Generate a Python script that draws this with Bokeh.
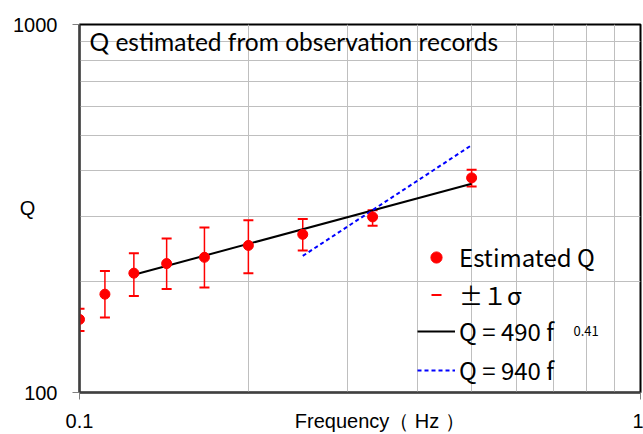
from bokeh.plotting import figure
from bokeh.models import (FixedTicker, Legend, LegendItem, Label, Range1d)
from bokeh.embed import file_html
from bokeh.resources import INLINE

# ---- data ----
freq = [0.100, 0.111, 0.125, 0.143, 0.167, 0.200, 0.250, 0.333, 0.500]
q_est = [158, 185, 211, 224, 233, 251, 269, 300, 383]
q_upper = [169, 214, 239, 262, 281, 294, 296, 313, 403]
q_lower = [147, 160, 183, 191, 193, 211, 243, 284, 363]

fit_pow_f = [0.125, 0.5]
fit_pow_q = [209, 369]      # Q = 490 f^0.41
fit_lin_f = [0.25, 0.5]
fit_lin_q = [235, 470]      # Q = 940 f

x_ticks = [0.1, 1]
x_minor = [0.2, 0.3, 0.4, 0.5, 0.6, 0.7, 0.8, 0.9]
y_ticks = [100, 1000]
y_minor = [200, 300, 400, 500, 600, 700, 800, 900]
x_tick_labels = ["0.1", "1"]
y_tick_labels = ["100", "1000"]

title_text = "Q estimated from observation records"
x_label = "Frequency（ Hz ）"
y_label = "Q"
x_label_at = 0.343   # where the axis title sits along the axis
y_label_at = 318
lbl_est = "Estimated Q"
lbl_sig = "±１σ"
lbl_pow = "Q = 490 f"
lbl_pow_exp = "0.41"
lbl_lin = "Q = 940 f"

CJK = "Noto Sans CJK JP"
TICKF = "Liberation Sans"
RED = "#FF0000"
BLUE = "#0000FF"
GRID = "#BFBFBF"
NBSP = "\u00a0"

p = figure(width=643, height=434, x_axis_type="log", y_axis_type="log",
           x_range=Range1d(0.1, 1), y_range=Range1d(100, 1000),
           output_backend="svg", toolbar_location=None,
           min_border_left=79, min_border_right=3, min_border_top=24,
           min_border_bottom=40)
p.background_fill_color = "white"
p.border_fill_color = "white"
p.outline_line_color = "black"
p.outline_line_width = 2

# axes: tick labels plus the axis titles placed along the axes
p.xaxis.ticker = FixedTicker(ticks=[x_ticks[0], x_label_at, x_ticks[1]], minor_ticks=x_ticks)
p.yaxis.ticker = FixedTicker(ticks=[y_ticks[0], y_label_at, y_ticks[1]], minor_ticks=y_ticks)
xo = dict(zip(x_ticks, x_tick_labels))
xo[x_label_at] = x_label
yo = dict(zip(y_ticks, y_tick_labels))
yo[y_label_at] = y_label + NBSP * 4
p.xaxis.major_label_overrides = xo
p.yaxis.major_label_overrides = yo
for ax in (p.xaxis, p.yaxis):
    ax.axis_line_color = "#404040"
    ax.axis_line_width = 2
    ax.major_tick_line_color = None
    ax.minor_tick_line_color = "#808080"
    ax.minor_tick_line_width = 1
    ax.minor_tick_out = 7
    ax.minor_tick_in = 0
    ax.major_tick_out = 7
    ax.major_tick_in = 0
    ax.major_label_text_font = TICKF
    ax.major_label_text_font_size = "20px"
    ax.major_label_text_color = "black"
p.yaxis.major_label_standoff = 15
p.xaxis.major_label_standoff = 10

p.xgrid.ticker = FixedTicker(ticks=x_ticks, minor_ticks=x_minor)
p.ygrid.ticker = FixedTicker(ticks=y_ticks, minor_ticks=y_minor)
for g in (p.xgrid, p.ygrid):
    g.grid_line_color = GRID
    g.grid_line_width = 1
    g.minor_grid_line_color = GRID
    g.minor_grid_line_width = 1

# error bars
p.segment(x0=freq, y0=q_lower, x1=freq, y1=q_upper, line_color=RED, line_width=1.5)
caps = p.scatter(x=freq + freq, y=q_upper + q_lower, marker="dash", size=10,
                 line_color=RED, line_width=2)
# fits
l_pow = p.line(fit_pow_f, fit_pow_q, line_color="black", line_width=2)
l_lin = p.line(fit_lin_f, fit_lin_q, line_color=BLUE, line_width=2, line_dash="4 3")
# points
pts = p.scatter(freq, q_est, marker="circle", size=10, fill_color=RED, line_color=RED)


def mk_legend(item, h, bottom):
    lg = Legend(items=[item], location=(338, bottom), orientation="vertical",
                glyph_width=38, glyph_height=h, label_height=h,
                label_standoff=4, spacing=0, padding=0, margin=0,
                border_line_color=None, background_fill_alpha=0,
                label_text_font=CJK, label_text_font_size="24px",
                label_text_color="black")
    p.add_layout(lg, "center")


mk_legend(LegendItem(label=lbl_est, renderers=[pts]), 28, 118)
mk_legend(LegendItem(label=lbl_sig, renderers=[caps]), 25, 80)
mk_legend(LegendItem(label=lbl_pow, renderers=[l_pow]), 28, 44)
mk_legend(LegendItem(label=lbl_lin, renderers=[l_lin]), 28, 5)

p.add_layout(Label(x=494, y=62, x_units="screen", y_units="screen", text=lbl_pow_exp,
                   text_font=CJK, text_font_size="13px", text_color="black",
                   text_baseline="alphabetic"))

p.add_layout(Label(x=10, y=351, x_units="screen", y_units="screen", text=title_text,
                   text_font="Lato", text_font_size="24.5px", text_color="black",
                   text_baseline="alphabetic"))

open("out.html", "w").write(file_html(p, INLINE))
